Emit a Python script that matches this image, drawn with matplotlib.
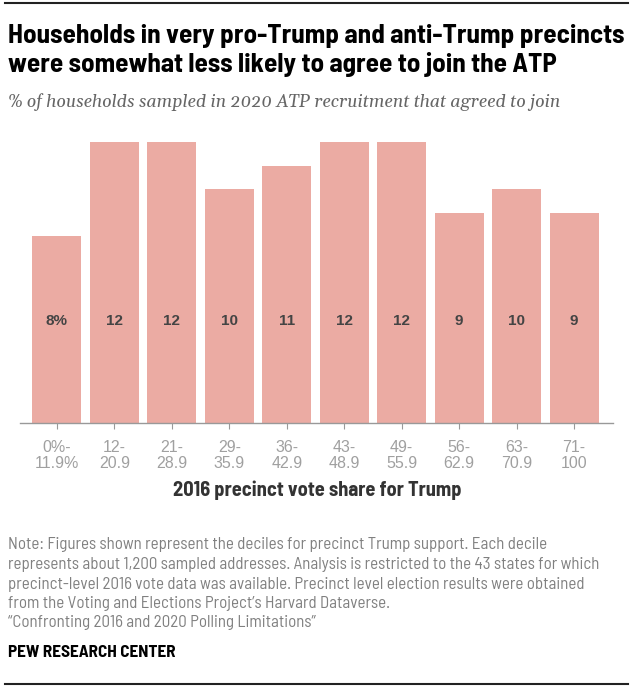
import matplotlib
matplotlib.use("Agg")
import matplotlib.pyplot as plt
from matplotlib.lines import Line2D

#############################
### Data ###
#############################
deciles = ["0%-\n11.9%", "12-\n20.9", "21-\n28.9", "29-\n35.9", "36-\n42.9",
           "43-\n48.9", "49-\n55.9", "56-\n62.9", "63-\n70.9", "71-\n100"]
agreed = [8, 12, 12, 10, 11, 12, 12, 9, 10, 9]
bar_labels = ["8%", "12", "12", "10", "11", "12", "12", "9", "10", "9"]

title_lines = ["Households in very pro-Trump and anti-Trump precincts",
               "were somewhat less likely to agree to join the ATP"]
subtitle = "% of households sampled in 2020 ATP recruitment that agreed to join"
xlabel = "2016 precinct vote share for Trump"
note_lines = [
    "Note: Figures shown represent the deciles for precinct Trump support. Each decile",
    "represents about 1,200 sampled addresses. Analysis is restricted to the 43 states for which",
    "precinct-level 2016 vote data was available. Precinct level election results were obtained",
    "from the Voting and Elections Project\u2019s Harvard Dataverse.",
    "\u201cConfronting 2016 and 2020 Polling Limitations\u201d",
]
source = "PEW RESEARCH CENTER"

narrow = ["Barlow Semi Condensed", "Liberation Sans", "DejaVu Sans"]
plain = ["Liberation Sans", "DejaVu Sans"]
serif = ["Gelasio", "Liberation Serif", "DejaVu Serif"]
W, H = 639, 691

#############################
### Figure ###
#############################
fig = plt.figure(figsize=(W / 100, H / 100), dpi=100)

def fy(px):
    # pixel from top -> figure fraction
    return 1 - px / H

def fx(px):
    return px / W

# rules top and bottom
fig.add_artist(Line2D([fx(5), fx(628)], [fy(3), fy(3)], color="#222222", lw=1.5))
fig.add_artist(Line2D([fx(5), fx(628)], [fy(684), fy(684)], color="#222222", lw=1.5))

# title
for i, line in enumerate(title_lines):
    fig.text(fx(8), fy(43 + 29 * i), line, family=narrow, weight="bold", fontsize=19.5,
             color="black", va="baseline")
fig.text(fx(8), fy(107), subtitle, family=serif, style="italic",
         fontsize=12.8, color="#666666", va="baseline")

# axes
ax = fig.add_axes([fx(20), fy(423.3), fx(612.7) - fx(20), fy(142.3) - fy(423.3)])
x = list(range(len(agreed)))
ax.bar(x, agreed, width=0.85, color="#EBABA3", edgecolor="none")
for xi, lab in zip(x, bar_labels):
    ax.text(xi, 4.38, lab, ha="center", va="center", family=plain, weight="bold",
            fontsize=11, color="#444444")

ax.set_xlim(-0.64, 9.67)
ax.set_ylim(0, 12)
for s in ["top", "right", "left"]:
    ax.spines[s].set_visible(False)
ax.spines["bottom"].set_color("#999999")
ax.spines["bottom"].set_linewidth(1)
ax.set_yticks([])
ax.set_xticks(x)
ax.set_xticklabels(deciles, family=plain, fontsize=11.5, color="#a0a0a0", linespacing=1.12)
ax.tick_params(axis="x", length=4.5, width=0.8, color="#999999", pad=7.5)

fig.text(fx(317), fy(490), xlabel, family=narrow, weight="bold", fontsize=14.7,
         color="#333333", ha="center", va="center")

# notes
for i, line in enumerate(note_lines):
    fig.text(fx(8), fy(545 + 19.5 * i), line, family=narrow, fontsize=12.2,
             color="#808080", va="center")
fig.text(fx(8), fy(652.5), source, family=narrow, weight="bold", fontsize=12.4,
         color="black", va="center")

fig.savefig("out.png", dpi=100)
